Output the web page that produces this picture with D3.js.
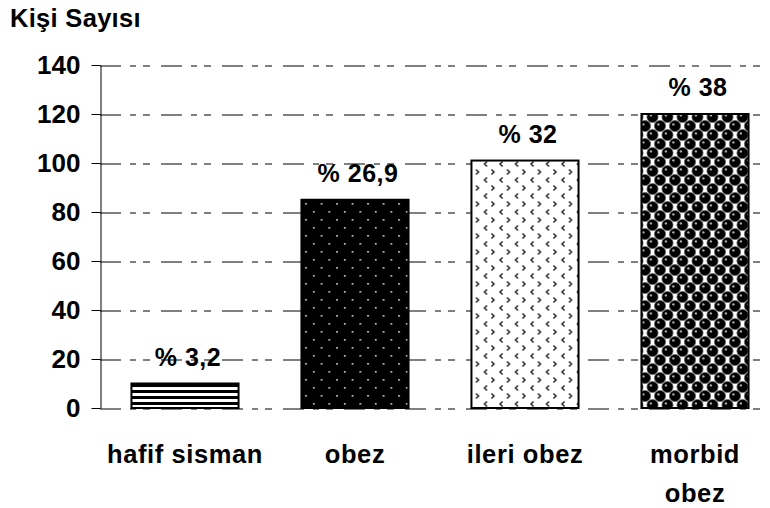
<!DOCTYPE html>
<html>
<head>
<meta charset="utf-8">
<script src="https://cdn.jsdelivr.net/npm/d3@7"></script>
<style>
  body { margin: 0; background: #fff; }
  text { font-family: "Liberation Sans", Arial, sans-serif; font-weight: bold; fill: #000; }
</style>
</head>
<body>
<svg id="chart" width="770" height="508"></svg>
<script>
const width = 770, height = 508;

// data
const categories = ["hafif sisman", "obez", "ileri obez", "morbid obez"];
const catLines   = [["hafif sisman"], ["obez"], ["ileri obez"], ["morbid", "obez"]];
const values     = [10, 85, 101, 120];
const pctLabels  = ["% 3,2", "% 26,9", "% 32", "% 38"];
const yTicks     = [0, 20, 40, 60, 80, 100, 120, 140];
const fills      = ["url(#stripes)", "url(#dots)", "url(#chevrons)", "url(#spheres)"];

const svg = d3.select("#chart");

const x = d3.scaleBand()
  .domain(categories)
  .range([100, 780])
  .paddingInner(0.37)
  .paddingOuter(0.185);

const y = d3.scaleLinear()
  .domain([0, 140])
  .range([408, 65]);

// patterns
const defs = svg.append("defs");

const stripes = defs.append("pattern")
  .attr("id", "stripes").attr("patternUnits", "userSpaceOnUse")
  .attr("width", 10).attr("height", 6);
stripes.append("rect").attr("width", 10).attr("height", 6).attr("fill", "#fff");
stripes.append("rect").attr("width", 10).attr("height", 3).attr("fill", "#000");

const dots = defs.append("pattern")
  .attr("id", "dots").attr("patternUnits", "userSpaceOnUse")
  .attr("width", 15.5).attr("height", 16);
dots.append("rect").attr("width", 15.5).attr("height", 16).attr("fill", "#000");
[[3, 3], [10.75, 11]].forEach(([cx, cy]) => {
  dots.append("rect").attr("x", cx).attr("y", cy).attr("width", 1.6).attr("height", 1.6).attr("fill", "#ddd");
});

const chev = defs.append("pattern")
  .attr("id", "chevrons").attr("patternUnits", "userSpaceOnUse")
  .attr("width", 15.5).attr("height", 16);
chev.append("rect").attr("width", 15.5).attr("height", 16).attr("fill", "#fff");
chev.append("path").attr("d", "M6.5,1.5 L4,4 L6.5,6.5").attr("fill", "none").attr("stroke", "#222").attr("stroke-width", 1.5);
chev.append("path").attr("d", "M11,9.5 L13.5,12 L11,14.5").attr("fill", "none").attr("stroke", "#222").attr("stroke-width", 1.5);

const sph = defs.append("pattern")
  .attr("id", "spheres").attr("patternUnits", "userSpaceOnUse")
  .attr("width", 15).attr("height", 18);
sph.append("rect").attr("width", 15).attr("height", 18).attr("fill", "#fff");
[[0, 0], [15, 0], [0, 18], [15, 18], [7.5, 9]].forEach(([cx, cy]) => {
  sph.append("circle").attr("cx", cx).attr("cy", cy).attr("r", 5.6)
    .attr("fill", "#000").attr("stroke", "#666").attr("stroke-width", 0.8);
  sph.append("circle").attr("cx", cx - 1.6).attr("cy", cy - 1.6).attr("r", 1.2).attr("fill", "#aaa");
});

// grid
svg.append("g")
  .attr("transform", "translate(100,0.5)")
  .call(d3.axisLeft(y).tickValues(yTicks).tickSize(-680).tickFormat(""))
  .call(g => g.select(".domain").remove())
  .call(g => g.selectAll(".tick line")
    .attr("stroke", "#000")
    .attr("stroke-dasharray", "21,9,6,7,7,11"));

// bars
svg.append("g").selectAll("rect")
  .data(values)
  .join("rect")
    .attr("x", (d, i) => x(categories[i]))
    .attr("y", d => y(d))
    .attr("width", x.bandwidth())
    .attr("height", d => y(0) - y(d))
    .attr("fill", (d, i) => fills[i])
    .attr("stroke", "#000")
    .attr("stroke-width", 2);

// y axis
svg.append("g")
  .attr("transform", "translate(100.5,0)")
  .call(d3.axisLeft(y).tickValues(yTicks).tickSize(9).tickSizeOuter(0).tickPadding(11))
  .call(g => g.select(".domain").attr("stroke", "#000"))
  .call(g => g.selectAll(".tick line").attr("stroke", "#000"))
  .call(g => g.selectAll(".tick text")
    .attr("font-size", 26)
    .attr("font-family", "Liberation Sans, Arial, sans-serif")
    .attr("font-weight", "bold")
    .attr("fill", "#000"));

// percentage labels
svg.append("g").selectAll("text")
  .data(values)
  .join("text")
    .attr("x", (d, i) => x(categories[i]) + x.bandwidth() / 2 + 3)
    .attr("y", d => y(d) - 18)
    .attr("text-anchor", "middle")
    .attr("font-size", 25)
    .attr("letter-spacing", 0.5)
    .text((d, i) => pctLabels[i]);

// category labels
const cat = svg.append("g").selectAll("text")
  .data(categories)
  .join("text")
    .attr("x", d => x(d) + x.bandwidth() / 2)
    .attr("y", 463)
    .attr("text-anchor", "middle")
    .attr("font-size", 25.5)
    .attr("letter-spacing", 0.6);
cat.selectAll("tspan")
  .data((d, i) => catLines[i])
  .join("tspan")
    .attr("x", function() { return this.parentNode.getAttribute("x"); })
    .attr("dy", (d, j) => j === 0 ? 0 : 39)
    .text(d => d);

// axis title
svg.append("text")
  .attr("x", 10)
  .attr("y", 27)
  .attr("font-size", 25.5)
  .attr("letter-spacing", 0.3)
  .text("Kişi Sayısı");
</script>
</body>
</html>
